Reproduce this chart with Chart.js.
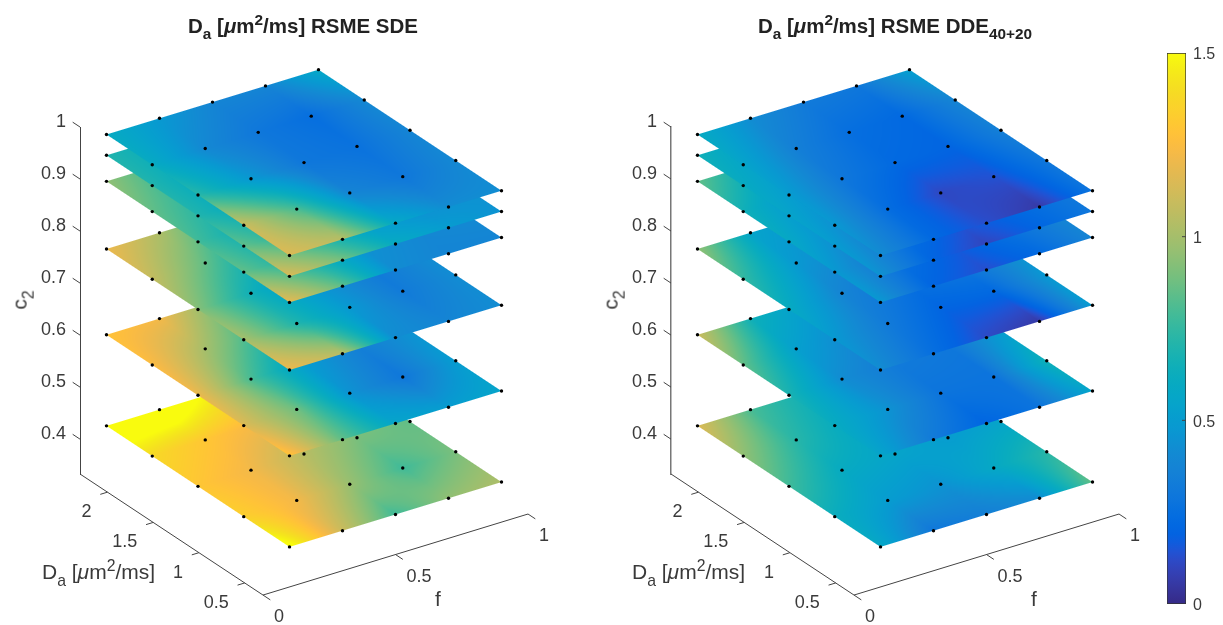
<!DOCTYPE html>
<html>
<head>
<meta charset="utf-8">
<title>Da RSME slices</title>
<script src="https://cdn.jsdelivr.net/npm/chart.js@4"></script>
<style>
    html, body { margin: 0; padding: 0; background: #fff; }
    body { position: relative; width: 1223px; height: 625px; overflow: hidden; font-family: "Liberation Sans", Arial, sans-serif; color: #3a3a3a; }
    canvas { position: absolute; top: 0; }
    .lbl { position: absolute; white-space: nowrap; font-size: 21px; line-height: 22px; }
    .lbl sub, .ttl sub { line-height: 0; font-size: 75%; vertical-align: -0.42em; }
    .lbl sup, .ttl sup { line-height: 0; font-size: 75%; vertical-align: 0.5em; }
    .ttl { position: absolute; top: 15px; width: 400px; text-align: center; font-weight: bold; font-size: 20.5px; line-height: 22px; color: #222; white-space: nowrap; }
    .c2 { transform: rotate(-90deg); transform-origin: center; }
</style>
</head>
<body>
<canvas id="sdeChart" width="575" height="625" style="left:0"></canvas>
<canvas id="ddeChart" width="575" height="625" style="left:591px"></canvas>
<canvas id="barChart" width="83" height="625" style="left:1140px"></canvas>

<div class="ttl" style="left:103px">D<sub>a</sub> [<i>μ</i>m<sup>2</sup>/ms] RSME SDE</div>
<div class="ttl" style="left:695px">D<sub>a</sub> [<i>μ</i>m<sup>2</sup>/ms] RSME DDE<sub>40+20</sub></div>
<div class="lbl c2" style="left:10px;top:289px">c<sub>2</sub></div>
<div class="lbl c2" style="left:601px;top:289px">c<sub>2</sub></div>
<div class="lbl" style="left:42px;top:561px">D<sub>a</sub> [<i>μ</i>m<sup>2</sup>/ms]</div>
<div class="lbl" style="left:632px;top:561px">D<sub>a</sub> [<i>μ</i>m<sup>2</sup>/ms]</div>
<div class="lbl" style="left:435px;top:588px">f</div>
<div class="lbl" style="left:1031px;top:588px">f</div>

<script>
"use strict";

/* grid of the fits */
var fValues = [0.1, 0.3, 0.5, 0.7, 0.9];
var daValues = [0.3, 0.8, 1.3, 1.8, 2.3];
var c2Levels = [0.41, 0.585, 0.75, 0.88, 0.93, 0.97];

/* tick labels */
var c2Ticks = [0.4, 0.5, 0.6, 0.7, 0.8, 0.9, 1];
var daTicks = [0.5, 1, 1.5, 2];
var fTicks = [0, 0.5, 1];
var barTicks = [0, 0.5, 1, 1.5];

/* RSME, one row per Da, one column per f, bottom slice first */
var sdeSlices = [
    [[1.55, 1.10, 0.78, 0.95, 1.02],
     [1.34, 1.22, 0.97, 0.78, 0.90],
     [1.30, 1.22, 1.05, 0.90, 0.85],
     [1.38, 1.30, 1.22, 1.05, 0.95],
     [1.65, 1.65, 1.45, 1.20, 1.00]],
    [[1.30, 0.85, 0.55, 0.50, 0.55],
     [1.15, 0.88, 0.45, 0.30, 0.50],
     [1.20, 0.80, 0.50, 0.35, 0.45],
     [1.25, 1.00, 0.75, 0.50, 0.50],
     [1.28, 1.22, 0.90, 0.60, 0.60]],
    [[1.20, 1.05, 0.42, 0.38, 0.42],
     [1.00, 0.70, 0.48, 0.32, 0.42],
     [0.92, 0.65, 0.45, 0.32, 0.42],
     [1.08, 0.85, 0.60, 0.40, 0.45],
     [1.20, 1.02, 0.75, 0.50, 0.50]],
    [[1.18, 0.85, 0.42, 0.38, 0.38],
     [0.85, 0.65, 0.45, 0.40, 0.42],
     [0.78, 0.60, 0.40, 0.35, 0.40],
     [0.85, 0.70, 0.50, 0.40, 0.45],
     [0.95, 0.75, 0.60, 0.50, 0.50]],
    [[1.15, 0.90, 0.60, 0.50, 0.45],
     [0.85, 0.65, 0.45, 0.40, 0.45],
     [0.70, 0.55, 0.40, 0.35, 0.42],
     [0.70, 0.55, 0.40, 0.35, 0.45],
     [0.70, 0.60, 0.45, 0.42, 0.50]],
    [[1.15, 1.05, 0.58, 0.42, 0.42],
     [1.10, 0.80, 0.38, 0.30, 0.40],
     [0.72, 0.48, 0.30, 0.27, 0.38],
     [0.60, 0.40, 0.30, 0.25, 0.40],
     [0.60, 0.48, 0.38, 0.38, 0.58]]
];

var ddeSlices = [
    [[0.58, 0.30, 0.35, 0.42, 0.85],
     [0.62, 0.50, 0.45, 0.58, 0.72],
     [0.78, 0.60, 0.55, 0.50, 0.55],
     [0.95, 0.72, 0.58, 0.55, 0.55],
     [1.15, 0.80, 0.65, 0.60, 0.55]],
    [[0.55, 0.32, 0.20, 0.28, 0.55],
     [0.60, 0.45, 0.28, 0.28, 0.65],
     [0.68, 0.42, 0.32, 0.30, 0.50],
     [0.85, 0.52, 0.40, 0.40, 0.50],
     [1.10, 0.65, 0.50, 0.45, 0.50]],
    [[0.42, 0.25, 0.12, 0.06, 0.50],
     [0.48, 0.32, 0.20, 0.22, 0.48],
     [0.60, 0.38, 0.28, 0.32, 0.42],
     [0.75, 0.48, 0.38, 0.40, 0.45],
     [0.95, 0.55, 0.45, 0.45, 0.50]],
    [[0.48, 0.20, 0.13, 0.22, 0.38],
     [0.48, 0.28, 0.18, 0.28, 0.38],
     [0.58, 0.38, 0.28, 0.33, 0.40],
     [0.65, 0.45, 0.35, 0.40, 0.45],
     [0.85, 0.60, 0.45, 0.45, 0.50]],
    [[0.45, 0.20, 0.10, 0.20, 0.30],
     [0.50, 0.28, 0.18, 0.23, 0.30],
     [0.55, 0.38, 0.28, 0.30, 0.35],
     [0.60, 0.45, 0.35, 0.35, 0.40],
     [0.65, 0.50, 0.40, 0.40, 0.45]],
    [[0.42, 0.22, 0.13, 0.06, 0.28],
     [0.48, 0.24, 0.11, 0.14, 0.30],
     [0.50, 0.30, 0.22, 0.20, 0.35],
     [0.55, 0.35, 0.25, 0.22, 0.38],
     [0.60, 0.42, 0.32, 0.30, 0.52]]
];

/* parula */
var parula = [
    [0.2081,0.1663,0.5292],[0.2116,0.1898,0.5777],[0.2123,0.2138,0.6270],[0.2081,0.2386,0.6771],
    [0.1959,0.2645,0.7279],[0.1707,0.2919,0.7792],[0.1253,0.3242,0.8303],[0.0591,0.3598,0.8683],
    [0.0117,0.3875,0.8820],[0.0060,0.4086,0.8828],[0.0165,0.4266,0.8786],[0.0329,0.4430,0.8720],
    [0.0498,0.4586,0.8641],[0.0629,0.4737,0.8554],[0.0723,0.4887,0.8467],[0.0779,0.5040,0.8384],
    [0.0793,0.5200,0.8312],[0.0749,0.5375,0.8263],[0.0641,0.5570,0.8240],[0.0488,0.5772,0.8228],
    [0.0343,0.5966,0.8199],[0.0265,0.6137,0.8135],[0.0239,0.6287,0.8038],[0.0231,0.6418,0.7913],
    [0.0228,0.6535,0.7768],[0.0267,0.6642,0.7607],[0.0384,0.6743,0.7436],[0.0590,0.6838,0.7254],
    [0.0843,0.6928,0.7062],[0.1133,0.7015,0.6859],[0.1453,0.7098,0.6646],[0.1801,0.7177,0.6424],
    [0.2178,0.7250,0.6193],[0.2586,0.7317,0.5954],[0.3022,0.7376,0.5712],[0.3482,0.7424,0.5473],
    [0.3953,0.7459,0.5244],[0.4420,0.7481,0.5033],[0.4871,0.7491,0.4840],[0.5300,0.7491,0.4661],
    [0.5709,0.7485,0.4494],[0.6099,0.7473,0.4337],[0.6473,0.7456,0.4188],[0.6834,0.7435,0.4044],
    [0.7184,0.7411,0.3905],[0.7525,0.7384,0.3768],[0.7858,0.7356,0.3633],[0.8185,0.7327,0.3498],
    [0.8507,0.7299,0.3360],[0.8824,0.7274,0.3217],[0.9139,0.7258,0.3063],[0.9450,0.7261,0.2886],
    [0.9739,0.7314,0.2666],[0.9938,0.7455,0.2403],[0.9990,0.7653,0.2164],[0.9955,0.7861,0.1967],
    [0.9880,0.8066,0.1794],[0.9789,0.8271,0.1633],[0.9697,0.8481,0.1475],[0.9626,0.8705,0.1309],
    [0.9589,0.8949,0.1132],[0.9598,0.9218,0.0948],[0.9661,0.9514,0.0755],[0.9763,0.9831,0.0538]
];

var textColor = '#3a3a3a';
var axisFont = '18px "Liberation Sans", Arial, sans-serif';
var cMax = 1.5, c2Min = 0.333, daMin = 0.3, daMax = 2.3;

/* the 3d view, flattened on the hidden x scale and the c2 scale */
var fDx = 265, daDx = -91.5, fDy = 81, daDy = 60.5, c2Dy = 520;
var viewDet = fDx * daDy - daDx * fDy;

function viewX(f, da) { return fDx * f + daDx * (da - daMin); }
function viewY(f, da, c2) { return c2 + (fDy * f + daDy * (da - daMax)) / c2Dy; }

function valueRgb(v) {
    var t = Math.max(0, Math.min(1, v / cMax)) * (parula.length - 1);
    var i = Math.min(parula.length - 2, Math.floor(t));
    var k = t - i;
    var a = parula[i], b = parula[i + 1];
    return [0, 1, 2].map(function (n) { return Math.round((a[n] + (b[n] - a[n]) * k) * 255); });
}

var colorLut = [];
for (var q = 0; q <= 1500; q++) colorLut.push(valueRgb(q / 1000));

function px(chart, f, da, c2) {
    return [chart.scales.x.getPixelForValue(viewX(f, da)), chart.scales.y.getPixelForValue(viewY(f, da, c2))];
}

function cellValue(grid, f, da) {
    var cf = Math.max(0, Math.min(fValues.length - 1.001, (f - fValues[0]) / (fValues[1] - fValues[0])));
    var cd = Math.max(0, Math.min(daValues.length - 1.001, (da - daValues[0]) / (daValues[1] - daValues[0])));
    var c = Math.floor(cf), r = Math.floor(cd), u = cf - c, w = cd - r;
    return (grid[r][c] * (1 - u) + grid[r][c + 1] * u) * (1 - w) +
        (grid[r + 1][c] * (1 - u) + grid[r + 1][c + 1] * u) * w;
}

/* interpolated shading: every pixel is taken back through the scales to (f, Da) */
function drawSlice(chart, c2, grid) {
    var fLo = fValues[0], fHi = fValues[fValues.length - 1];
    var daLo = daValues[0], daHi = daValues[daValues.length - 1];
    var corners = [px(chart, fLo, daLo, c2), px(chart, fHi, daLo, c2), px(chart, fHi, daHi, c2), px(chart, fLo, daHi, c2)];
    var xs = corners.map(function (p) { return p[0]; }), ys = corners.map(function (p) { return p[1]; });
    var x0 = Math.floor(Math.min.apply(null, xs)) - 1, x1 = Math.ceil(Math.max.apply(null, xs)) + 1;
    var y0 = Math.floor(Math.min.apply(null, ys)) - 1, y1 = Math.ceil(Math.max.apply(null, ys)) + 1;
    var off = document.createElement('canvas');
    off.width = x1 - x0;
    off.height = y1 - y0;
    var octx = off.getContext('2d');
    var img = octx.createImageData(off.width, off.height);
    var fPerPx = Math.sqrt(daDy * daDy + daDx * daDx) / viewDet;
    var daPerPx = Math.sqrt(fDx * fDx + fDy * fDy) / viewDet;
    var i = 0;
    for (var y = y0; y < y1; y++) {
        var w = (chart.scales.y.getValueForPixel(y + 0.5) - c2) * c2Dy - daDy * (daMin - daMax);
        for (var x = x0; x < x1; x++, i += 4) {
            var vx = chart.scales.x.getValueForPixel(x + 0.5);
            var f = (vx * daDy - daDx * w) / viewDet;
            var da = daMin + (fDx * w - fDy * vx) / viewDet;
            var d = Math.min((f - fLo) / fPerPx, (fHi - f) / fPerPx, (da - daLo) / daPerPx, (daHi - da) / daPerPx);
            if (d < -0.5) continue;
            var rgb = colorLut[Math.max(0, Math.min(1500, Math.round(cellValue(grid, f, da) * 1000)))];
            img.data[i] = rgb[0];
            img.data[i + 1] = rgb[1];
            img.data[i + 2] = rgb[2];
            img.data[i + 3] = Math.round(Math.min(1, d + 0.5) * 255);
        }
    }
    octx.putImageData(img, 0, 0);
    chart.ctx.drawImage(off, x0, y0);
}

function line(ctx, a, b) {
    ctx.beginPath();
    ctx.moveTo(a[0], a[1]);
    ctx.lineTo(b[0], b[1]);
    ctx.stroke();
}

var wholePage = { left: -9999, top: -9999, right: 9999, bottom: 9999 };

var slicePlugin = {
    id: 'slices',
    /* surface under its own dots, slice by slice; the dots leave the chart area so they are drawn from here */
    beforeDatasetDraw: function (chart, args) {
        var ds = chart.data.datasets[args.index];
        drawSlice(chart, ds.c2, ds.rmse);
        args.meta.data.forEach(function (point) {
            point.draw(chart.ctx, wholePage);
        });
        return false;
    },
    beforeDatasetsDraw: function (chart) {
        var ctx = chart.ctx;
        ctx.save();
        ctx.strokeStyle = '#444';
        ctx.lineWidth = 1;
        // f and Da axes on the floor
        line(ctx, px(chart, 0, daMax, c2Min), px(chart, 0, daMin, c2Min));
        line(ctx, px(chart, 0, daMin, c2Min), px(chart, 1, daMin, c2Min));
        ctx.fillStyle = textColor;
        ctx.font = axisFont;
        ctx.textBaseline = 'middle';
        ctx.textAlign = 'left';
        fTicks.forEach(function (t) {
            var p = px(chart, t, daMin, c2Min);
            line(ctx, p, px(chart, t, daMin - 0.08, c2Min));
            ctx.fillText(String(t), p[0] + 11, p[1] + 22);
        });
        ctx.textAlign = 'right';
        daTicks.forEach(function (t) {
            var p = px(chart, 0, t, c2Min);
            line(ctx, p, px(chart, -0.027, t, c2Min));
            ctx.fillText(String(t), p[0] - 16, p[1] + 20);
        });
        c2Ticks.forEach(function (t) {
            line(ctx, px(chart, 0, daMax, t), px(chart, 0, daMax + 0.08, t));
        });
        ctx.restore();
    }
};

function makePanel(id, slices, axisColor, axisWidth) {
    var datasets = c2Levels.map(function (c2, s) {
        var pts = [];
        daValues.forEach(function (da) {
            fValues.forEach(function (f) {
                pts.push({ x: viewX(f, da), y: viewY(f, da, c2) });
            });
        });
        return {
            label: 'c2 ' + c2,
            data: pts,
            c2: c2,
            rmse: slices[s],
            order: -c2,
            showLine: false,
            clip: false,
            pointRadius: 1.7,
            pointBorderWidth: 0,
            pointBackgroundColor: '#000'
        };
    });

    return new Chart(document.getElementById(id).getContext('2d'), {
        type: 'scatter',
        data: { datasets: datasets },
        plugins: [slicePlugin],
        options: {
            responsive: false,
            animation: false,
            events: [],
            layout: { padding: { top: 127, bottom: 151, left: 0, right: 15 } },
            plugins: { legend: { display: false }, tooltip: { enabled: false } },
            scales: {
                x: { type: 'linear', display: false, min: -183, max: 297 },
                y: {
                    type: 'linear',
                    min: c2Min,
                    max: 1,
                    afterFit: function (scale) { scale.width = 80; },
                    afterBuildTicks: function (scale) {
                        scale.ticks = c2Ticks.map(function (v) { return { value: v }; });
                    },
                    grid: { display: false, drawTicks: false },
                    border: { display: true, color: axisColor, width: axisWidth },
                    ticks: {
                        color: textColor,
                        padding: 14,
                        labelOffset: -5,
                        autoSkip: false,
                        font: { size: 18, family: '"Liberation Sans", Arial, sans-serif' },
                        callback: function (v) { return String(v); }
                    }
                }
            }
        }
    });
}

makePanel('sdeChart', sdeSlices, '#444', 1);
makePanel('ddeChart', ddeSlices, '#777', 1.5);

/* colour bar */
var barTickPlugin = {
    id: 'barTicks',
    afterDraw: function (chart) {
        var ctx = chart.ctx, right = chart.chartArea.right;
        ctx.save();
        ctx.strokeStyle = '#444';
        barTicks.slice(1, 3).forEach(function (t) {
            var y = chart.scales.y.getPixelForValue(t);
            line(ctx, [right - 4, y], [right, y]);
        });
        ctx.restore();
    }
};

new Chart(document.getElementById('barChart').getContext('2d'), {
    type: 'bar',
    data: {
        labels: ['RSME'],
        datasets: [{
            data: [[0, cMax]],
            barPercentage: 1,
            categoryPercentage: 1,
            borderWidth: 1,
            borderSkipped: false,
            borderColor: '#333',
            backgroundColor: function (context) {
                var area = context.chart.chartArea;
                if (!area) return '#888';
                var g = context.chart.ctx.createLinearGradient(0, area.bottom, 0, area.top);
                parula.forEach(function (c, i) {
                    g.addColorStop(i / (parula.length - 1), 'rgb(' + c.map(function (n) { return Math.round(n * 255); }).join(',') + ')');
                });
                return g;
            }
        }]
    },
    plugins: [barTickPlugin],
    options: {
        responsive: false,
        animation: false,
        events: [],
        layout: { padding: { top: 53, bottom: 21, left: 27, right: 0 } },
        plugins: { legend: { display: false }, tooltip: { enabled: false } },
        scales: {
            x: { display: false },
            y: {
                position: 'right',
                min: 0,
                max: cMax,
                afterFit: function (scale) { scale.width = 37; },
                afterBuildTicks: function (scale) {
                    scale.ticks = barTicks.map(function (v) { return { value: v }; });
                },
                grid: { display: false, drawTicks: false },
                border: { display: false },
                ticks: {
                    color: textColor,
                    padding: 7,
                    labelOffset: 2,
                    font: { size: 16, family: '"Liberation Sans", Arial, sans-serif' },
                    callback: function (v) { return String(v); }
                }
            }
        }
    }
});
</script>
</body>
</html>
